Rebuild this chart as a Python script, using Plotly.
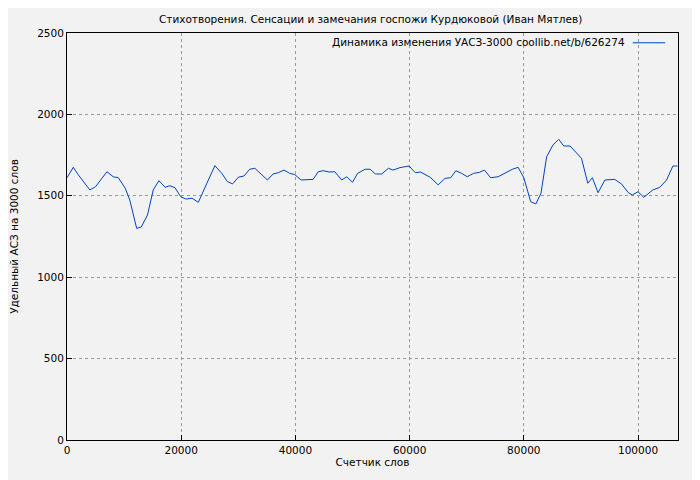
import plotly.graph_objects as go

# word counter positions and specific ASZ values
words = [0, 1100, 2000, 4000, 5000, 7000, 8100, 9000, 10200, 11000, 12200, 13000,
         14100, 15100, 16100, 17200, 18000, 18900, 19900, 20800, 21900, 23000, 24500,
         25900, 27100, 28100, 29000, 30000, 31000, 32000, 32900, 35100, 36100, 37000,
         38000, 39000, 39900, 41000, 43100, 44000, 44900, 45900, 46900, 48100, 49000,
         50000, 50900, 52200, 53100, 54000, 55100, 56300, 57100, 58300, 59900, 61000,
         61900, 63600, 65000, 66200, 67200, 68100, 69100, 70100, 71200, 72200, 73100,
         74200, 75500, 76700, 78000, 79000, 80000, 80700, 81200, 82100, 83000, 84000,
         85100, 86100, 87000, 88100, 89100, 90100, 91200, 92000, 93000, 94200, 95900,
         97100, 98300, 99000, 100000, 101000, 102600, 103800, 105000, 106100, 106900]
uasz = [1611, 1675, 1628, 1536, 1556, 1648, 1617, 1611, 1546, 1474, 1300, 1308,
        1382, 1536, 1593, 1552, 1562, 1550, 1495, 1480, 1485, 1460, 1577,
        1685, 1638, 1587, 1573, 1614, 1622, 1663, 1669, 1597, 1634, 1642,
        1658, 1638, 1630, 1597, 1601, 1648, 1654, 1646, 1648, 1597, 1617,
        1583, 1638, 1663, 1663, 1634, 1634, 1669, 1658, 1673, 1683, 1642,
        1646, 1614, 1567, 1607, 1611, 1654, 1638, 1617, 1638, 1644, 1658,
        1611, 1617, 1638, 1663, 1675, 1611, 1525, 1464, 1450, 1515, 1740,
        1812, 1847, 1806, 1806, 1771, 1730, 1577, 1611, 1519, 1597, 1601,
        1573, 1519, 1505, 1525, 1491, 1536, 1552, 1597, 1683, 1683]

legend_text = "Динамика изменения УАСЗ-3000 coollib.net/b/626274"
line_color = "#0044bb"

fig = go.Figure()
fig.add_trace(go.Scatter(x=words, y=uasz, mode="lines",
                         line=dict(color=line_color, width=1), showlegend=False))

axis = dict(showline=True, linecolor="black", linewidth=1, mirror=True,
            ticks="inside", ticklen=5, tickcolor="black", automargin=False,
            showgrid=True, gridcolor="#999999", griddash="dot", gridwidth=1,
            zeroline=False, tickfont=dict(size=10.5, color="black"))

fig.update_layout(
    width=700, height=480,
    paper_bgcolor="#f2f2f2", plot_bgcolor="#f2f2f2",
    font=dict(family="DejaVu Sans", size=11, color="black"),
    margin=dict(l=59, r=30, t=25, b=48),
    title=dict(text="Стихотворения. Сенсации и замечания госпожи Курдюковой (Иван Мятлев)",
               x=0.518, xanchor="center", y=0.985, font=dict(size=10.5)),
    xaxis=dict(axis, range=[0, 107000], dtick=20000, tickformat="d",
               title=dict(text="Счетчик слов", standoff=4, font=dict(size=10.5))),
    yaxis=dict(axis, range=[0, 2500], dtick=500,
               title=dict(text="Удельный АСЗ на 3000 слов", standoff=20, font=dict(size=10.5))),
    showlegend=False,
)

# gnuplot-style key: text first, then line sample
fig.add_annotation(xref="paper", yref="paper", x=0.917, y=0.998, xanchor="right",
                   yanchor="top", text=legend_text, showarrow=False, font=dict(size=10.5))
fig.add_shape(type="line", xref="paper", yref="paper", x0=0.926, x1=0.979, y0=0.976, y1=0.976,
              line=dict(color=line_color, width=1))

fig.write_html("out.html")
